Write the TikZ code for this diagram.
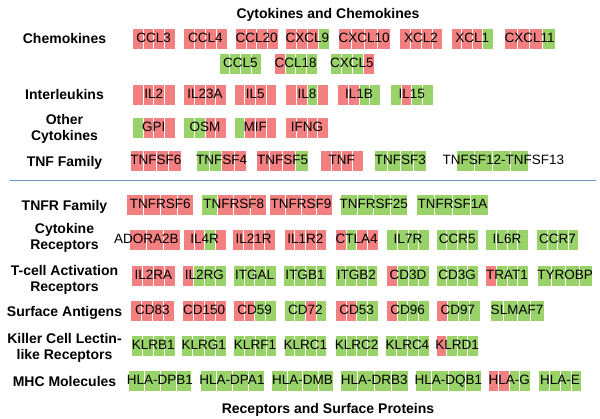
\documentclass[tikz,border=0pt]{standalone}
\usepackage{fontspec}
\setmainfont{Liberation Sans}
\definecolor{cR}{RGB}{242,128,128}
\definecolor{cG}{RGB}{152,210,104}
\definecolor{cW}{RGB}{255,255,255}
\definecolor{sepblue}{RGB}{100,150,200}
\newcommand{\gcells}[7]{%
  \path[cell,fill=c#4] ({#1},{#3-10.5}) rectangle ({#1+#2/4},{#3+10.5});
  \path[cell,fill=c#5] ({#1+#2/4},{#3-10.5}) rectangle ({#1+#2/2},{#3+10.5});
  \path[cell,fill=c#6] ({#1+#2/2},{#3-10.5}) rectangle ({#1+3*#2/4},{#3+10.5});
  \path[cell,fill=c#7] ({#1+3*#2/4},{#3-10.5}) rectangle ({#1+#2},{#3+10.5});}
\newcommand{\gn}[9]{%
  \gcells{#2}{#3}{#4}{#5}{#6}{#7}{#8}
  \node[gene] (#1) at ({#2+#3/2},{#4}) {#9};}
\begin{document}
\begin{tikzpicture}[x=1pt,y=-1pt,
  cell/.style={draw=white,line width=0.6pt},
  gene/.style={font=\fontsize{13.5}{16}\selectfont,inner sep=0pt,text height=0.716em,text depth=0pt},
  lab/.style={font=\bfseries\fontsize{14}{16}\selectfont,align=center,inner sep=0pt},
  ttl/.style={font=\bfseries\fontsize{14}{16}\selectfont,inner sep=0pt,anchor=base}]
\useasboundingbox[fill=white] (0,0) rectangle (600,418);

% titles
\node[ttl] (ttop) at (328,18.3) {Cytokines and Chemokines};
\node[ttl] (tbot) at (328,413.3) {Receptors and Surface Proteins};

% separator
\coordinate (sepL) at (10,180.7);
\coordinate (sepR) at (596,180.7);
\draw[sepblue,line width=1.2pt] (sepL) -- (sepR);

% row labels
\node[lab,anchor=base] (lchem) at (64.5,43.7) {Chemokines};
\node[lab,anchor=base] (lil) at (64.5,99.7) {Interleukins};
\node[lab] (loth) at (64.5,129) {Other\\Cytokines};
\node[lab,anchor=base] (ltnf) at (64.5,166) {TNF Family};
\node[lab,anchor=base] (ltnfr) at (64.5,210) {TNFR Family};
\node[lab] (lcyr) at (64.5,237.8) {Cytokine\\Receptors};
\node[lab] (ltca) at (64.5,280.2) {T-cell Activation\\Receptors};
\node[lab,anchor=base] (lsa) at (64.5,316) {Surface Antigens};
\node[lab] (lklr) at (64.5,348) {Killer Cell Lectin-\\like Receptors};
\node[lab,anchor=base] (lmhc) at (64.5,386) {MHC Molecules};

% Chemokines row 1
\gn{ccl3}{132.3}{42.7}{39}{R}{R}{R}{R}{CCL3}
\gn{ccl4}{183.3}{44}{39}{R}{R}{R}{R}{CCL4}
\gn{ccl20}{235}{43.3}{39}{R}{R}{R}{R}{CCL20}
\gn{cxcl9}{285.7}{43.6}{39}{R}{R}{R}{G}{CXCL9}
\gn{cxcl10}{338.3}{51.7}{39}{R}{R}{R}{R}{CXCL10}
\gn{xcl2}{399.3}{43.4}{39}{R}{R}{R}{R}{XCL2}
\gn{xcl1}{451}{42.3}{39}{R}{R}{R}{G}{XCL1}
\gn{cxcl11}{504.3}{50.7}{39}{R}{R}{R}{G}{CXCL11}
% Chemokines row 2
\gn{ccl5}{219}{42.7}{63.7}{G}{G}{G}{G}{CCL5}
\gn{ccl18}{274}{43.3}{63.7}{R}{G}{G}{G}{CCL18}
\gn{cxcl5}{330}{44}{63.7}{G}{G}{G}{R}{CXCL5}
% Interleukins
\gn{il2}{132.3}{42.7}{94.7}{R}{R}{R}{R}{IL2}
\gn{il23a}{183.3}{43.3}{94.7}{R}{R}{R}{R}{IL23A}
\gn{il5}{234}{42.7}{94.7}{R}{R}{R}{R}{IL5}
\gn{il8}{285.7}{42.7}{94.7}{R}{R}{G}{R}{IL8}
\gn{il1b}{337.3}{43.3}{94.7}{R}{R}{G}{G}{IL1B}
\gn{il15}{390}{43.3}{94.7}{G}{R}{G}{G}{IL15}
% Other cytokines
\gn{gpi}{132.3}{42.7}{128}{G}{R}{R}{R}{GPI}
\gn{osm}{183.3}{43.3}{128}{G}{G}{R}{R}{OSM}
\gn{mif}{234}{42.7}{128}{G}{R}{R}{R}{MIF}
\gn{ifng}{285.7}{42.7}{128}{R}{R}{R}{R}{IFNG}
% TNF family
\gn{tnfsf6}{130}{51.7}{161}{R}{R}{R}{R}{TNFSF6}
\gn{tnfsf4}{196.7}{50}{161}{G}{G}{R}{R}{TNFSF4}
\gn{tnfsf5}{256.7}{51.7}{161}{R}{R}{R}{G}{TNFSF5}
\gn{tnf}{320}{43.3}{161}{R}{R}{R}{R}{TNF}
\gn{tnfsf3}{374}{52.7}{161}{G}{G}{G}{G}{TNFSF3}
\gcells{456.7}{71.6}{161}{G}{G}{G}{G}
\node[gene] (tnfsf12) at (503.3,161) {TNFSF12-TNFSF13};
% TNFR family
\gn{tnfrsf6}{126.7}{67}{205}{R}{R}{R}{R}{TNFRSF6}
\gn{tnfrsf8}{201.2}{65}{205}{G}{R}{R}{R}{TNFRSF8}
\gn{tnfrsf9}{269.5}{63}{205}{R}{R}{R}{R}{TNFRSF9}
\gn{tnfrsf25}{340}{67.3}{205}{G}{G}{G}{G}{TNFRSF25}
\gn{tnfrsf1a}{416.7}{71.6}{205}{G}{G}{G}{G}{TNFRSF1A}
% Cytokine receptors
\gn{adora2b}{112.7}{67.3}{240}{W}{R}{R}{R}{ADORA2B}
\gn{il4r}{183.3}{42.7}{240}{R}{R}{G}{R}{IL4R}
\gn{il21r}{232.3}{42.7}{240}{R}{R}{R}{R}{IL21R}
\gn{il1r2}{284}{42.7}{240}{R}{R}{R}{R}{IL1R2}
\gn{ctla4}{335}{43.3}{240}{R}{G}{R}{R}{CTLA4}
\gn{il7r}{386.7}{42.6}{240}{G}{G}{G}{G}{IL7R}
\gn{ccr5}{436}{42.3}{240}{G}{G}{G}{G}{CCR5}
\gn{il6r}{485.7}{42.6}{240}{G}{G}{G}{G}{IL6R}
\gn{ccr7}{536.7}{41.6}{240}{G}{G}{G}{G}{CCR7}
% T-cell activation receptors
\gn{il2ra}{131.7}{43.3}{276}{R}{R}{R}{R}{IL2RA}
\gn{il2rg}{182.7}{43.3}{276}{R}{G}{G}{G}{IL2RG}
\gn{itgal}{233.3}{42.7}{276}{G}{G}{G}{G}{ITGAL}
\gn{itgb1}{283.3}{43.4}{276}{G}{G}{G}{G}{ITGB1}
\gn{itgb2}{335}{42.7}{276}{G}{G}{G}{G}{ITGB2}
\gn{cd3d}{386.7}{42.6}{276}{R}{G}{G}{G}{CD3D}
\gn{cd3g}{436}{42.3}{276}{G}{G}{G}{G}{CD3G}
\gn{trat1}{485.7}{42.6}{276}{R}{G}{G}{G}{TRAT1}
\gn{tyrobp}{537.7}{55}{276}{G}{G}{G}{G}{TYROBP}
% Surface antigens
\gn{cd83}{130.7}{43.3}{311}{R}{R}{R}{R}{CD83}
\gn{cd150}{182.3}{43.7}{311}{R}{R}{R}{R}{CD150}
\gn{cd59}{233.3}{42.7}{311}{R}{R}{G}{G}{CD59}
\gn{cd72}{284}{42.7}{311}{G}{G}{R}{G}{CD72}
\gn{cd53}{335}{43.3}{311}{R}{R}{G}{G}{CD53}
\gn{cd96}{386}{43.3}{311}{R}{G}{G}{G}{CD96}
\gn{cd97}{436}{44}{311}{R}{G}{G}{G}{CD97}
\gn{slmaf7}{490}{54}{311}{G}{G}{G}{G}{SLMAF7}
% Killer cell lectin-like receptors
\gn{klrb1}{131.7}{43.3}{346}{G}{G}{G}{G}{KLRB1}
\gn{klrg1}{181.7}{44.3}{346}{G}{G}{G}{G}{KLRG1}
\gn{klrf1}{233.3}{43.4}{346}{G}{G}{G}{G}{KLRF1}
\gn{klrc1}{284}{42.7}{346}{G}{G}{G}{G}{KLRC1}
\gn{klrc2}{335}{43.3}{346}{G}{G}{G}{G}{KLRC2}
\gn{klrc4}{385.7}{43.6}{346}{G}{G}{G}{G}{KLRC4}
\gn{klrd1}{436}{42.3}{346}{R}{G}{G}{G}{KLRD1}
% MHC molecules
\gn{hladpb1}{128.3}{63.4}{381}{G}{G}{G}{G}{HLA-DPB1}
\gn{hladpa1}{200}{64}{381}{G}{G}{G}{G}{HLA-DPA1}
\gn{hladmb}{271.7}{61.6}{381}{G}{G}{G}{G}{HLA-DMB}
\gn{hladrb3}{340}{68.3}{381}{G}{G}{G}{G}{HLA-DRB3}
\gn{hladqb1}{415}{66.7}{381}{G}{G}{G}{G}{HLA-DQB1}
\gn{hlag}{488.3}{41.7}{381}{R}{R}{G}{G}{HLA-G}
\gn{hlae}{538.3}{43.4}{381}{G}{G}{G}{G}{HLA-E}
\end{tikzpicture}
\end{document}
